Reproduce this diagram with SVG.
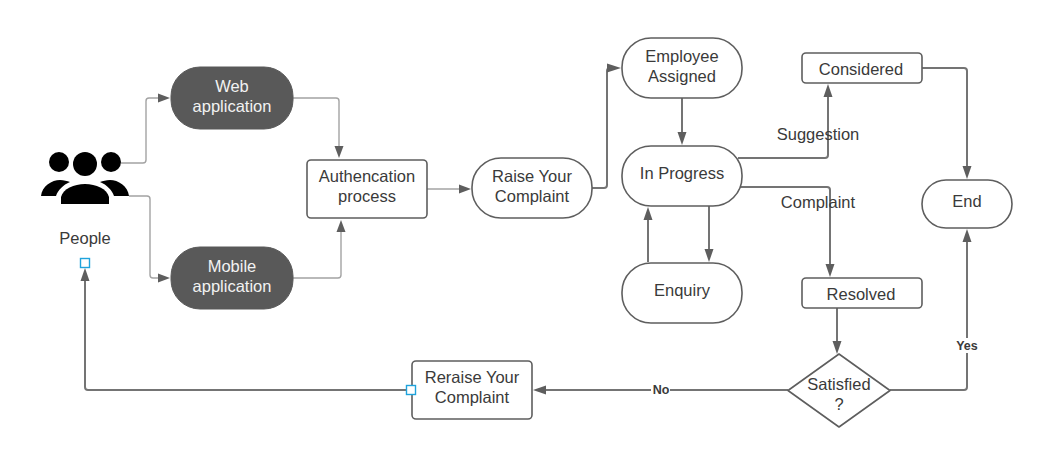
<svg xmlns="http://www.w3.org/2000/svg" width="1047" height="467" viewBox="0 0 1047 467">
<style>
.n{fill:#fff;stroke:#5e5e5e;stroke-width:1.6}
.d{fill:#595959;stroke:#595959;stroke-width:1}
text{font-family:"Liberation Sans",Arial,sans-serif;font-size:16.500px;fill:#3a3a3a;text-anchor:middle}
.w{fill:#f2f2f2}
.b{font-size:12.500px;font-weight:bold}
.c{fill:none;stroke:#747474;stroke-width:2}
.t{fill:none;stroke:#a3a3a3;stroke-width:1.4}
.h{fill:#5e5e5e;stroke:none}
.s{fill:#fff;stroke:#1fa3dc;stroke-width:1.4}
</style>
<g id="connectors">
<path class="t" d="M121 163H143Q146 163 146 160V101Q146 98 149 98H160"/>
<path class="h" d="M170 98L158 93.500V102.500Z"/>
<path class="t" d="M129 196H147Q150 196 150 199V275Q150 278 153 278H160"/>
<path class="h" d="M170 278L158 273.500V282.500Z"/>
<path class="t" d="M293 98H336Q339 98 339 101V148"/>
<path class="h" d="M339 158L334.500 146H343.500Z"/>
<path class="t" d="M293 278H338Q341 278 341 275V230"/>
<path class="h" d="M341 220L336.500 232H345.500Z"/>
<path class="t" d="M427 189H461"/>
<path class="h" d="M471 189L459 184.500V193.500Z"/>
<path class="c" d="M592 188H604Q607 188 607 185V71Q607 68 610 68H612"/>
<path class="h" d="M621 68L607 63.500V72.500Z"/>
<path class="c" d="M682 98V135"/>
<path class="h" d="M682 145L677.500 132H686.500Z"/>
<path class="c" d="M738 158H825Q828 158 828 155V95"/>
<path class="h" d="M828 84L823.500 97H832.500Z"/>
<path class="c" d="M740 187H827Q830 187 830 190V267"/>
<path class="h" d="M830 277L825.500 264H834.500Z"/>
<path class="c" d="M709 206V252"/>
<path class="h" d="M709 262L704.500 249H713.500Z"/>
<path class="c" d="M648 262V218"/>
<path class="h" d="M648 207L643.500 220H652.500Z"/>
<path class="c" d="M922 68H964Q967 68 967 71V170"/>
<path class="h" d="M967 179L962.500 166H971.500Z"/>
<path class="c" d="M837 308V343"/>
<path class="h" d="M837 354L832.500 341H841.500Z"/>
<path class="c" d="M890 390H964Q967 390 967 387V240"/>
<path class="h" d="M967 229L962.500 242H971.500Z"/>
<path class="c" d="M788 390H544"/>
<path class="h" d="M533 390L546 385.500V394.500Z"/>
<path class="c" d="M412 390H88Q85 390 85 387V279"/>
<path class="h" d="M85 268L80.500 281H89.500Z"/>
</g>
<g id="people">
<circle cx="59" cy="162" r="10" fill="#000"/>
<circle cx="85" cy="164" r="12" fill="#000"/>
<circle cx="111" cy="162" r="10" fill="#000"/>
<path fill="#000" d="M41 196C42 186 52 180 60 180C64 180 67 181 70 182C63 185 58 190 56 196Z"/>
<path fill="#000" d="M129 196C128 186 118 180 110 180C106 180 103 181 100 182C107 185 112 190 114 196Z"/>
<path fill="#000" d="M61 204V197C63 189 74 184 85 184C96 184 107 189 109 197V204Z"/>
<text x="85" y="244">People</text>
<rect class="s" x="80.500" y="258.500" width="9" height="9"/>
</g>
<g id="web"><rect class="d" x="171" y="67" width="122" height="62" rx="29"/><text class="w" x="232" y="92">Web</text><text class="w" x="232" y="112">application</text></g>
<g id="mobile"><rect class="d" x="171" y="247" width="122" height="62" rx="29"/><text class="w" x="232" y="272">Mobile</text><text class="w" x="232" y="292">application</text></g>
<g id="auth"><rect class="n" x="307" y="160" width="120" height="58" rx="4"/><text x="367" y="182">Authencation</text><text x="367" y="202">process</text></g>
<g id="raise"><rect class="n" x="472" y="158" width="120" height="60" rx="29"/><text x="532" y="182">Raise Your</text><text x="532" y="202">Complaint</text></g>
<g id="employee"><rect class="n" x="622" y="38" width="120" height="60" rx="29"/><text x="682" y="62">Employee</text><text x="682" y="82">Assigned</text></g>
<g id="progress"><rect class="n" x="622" y="146" width="120" height="60" rx="29"/><text x="682" y="179">In Progress</text></g>
<g id="enquiry"><rect class="n" x="622" y="263" width="120" height="60" rx="29"/><text x="682" y="296">Enquiry</text></g>
<g id="considered"><rect class="n" x="802" y="53" width="120" height="30" rx="4"/><text x="861" y="75">Considered</text></g>
<g id="resolved"><rect class="n" x="802" y="278" width="120" height="30" rx="4"/><text x="861" y="300">Resolved</text></g>
<g id="end"><rect class="n" x="922" y="180" width="90" height="48" rx="24"/><text x="967" y="207">End</text></g>
<g id="satisfied"><path class="n" stroke-linejoin="round" d="M839 354L890 390.500L839 427L788 390.500Z"/><text x="839" y="390">Satisfied</text><text x="839" y="410">?</text></g>
<g id="reraise"><rect class="n" x="412" y="361" width="120" height="58" rx="4"/><text x="472" y="383">Reraise Your</text><text x="472" y="403">Complaint</text><rect class="s" x="406.500" y="385.500" width="9" height="9"/></g>
<g id="labels">
<text x="818" y="140">Suggestion</text>
<text x="818" y="208">Complaint</text>
<rect x="651" y="383" width="19" height="14" fill="#fff"/><text class="b" x="661" y="394">No</text>
<rect x="955" y="338" width="25" height="15" fill="#fff"/><text class="b" x="967" y="350">Yes</text>
</g>
</svg>
